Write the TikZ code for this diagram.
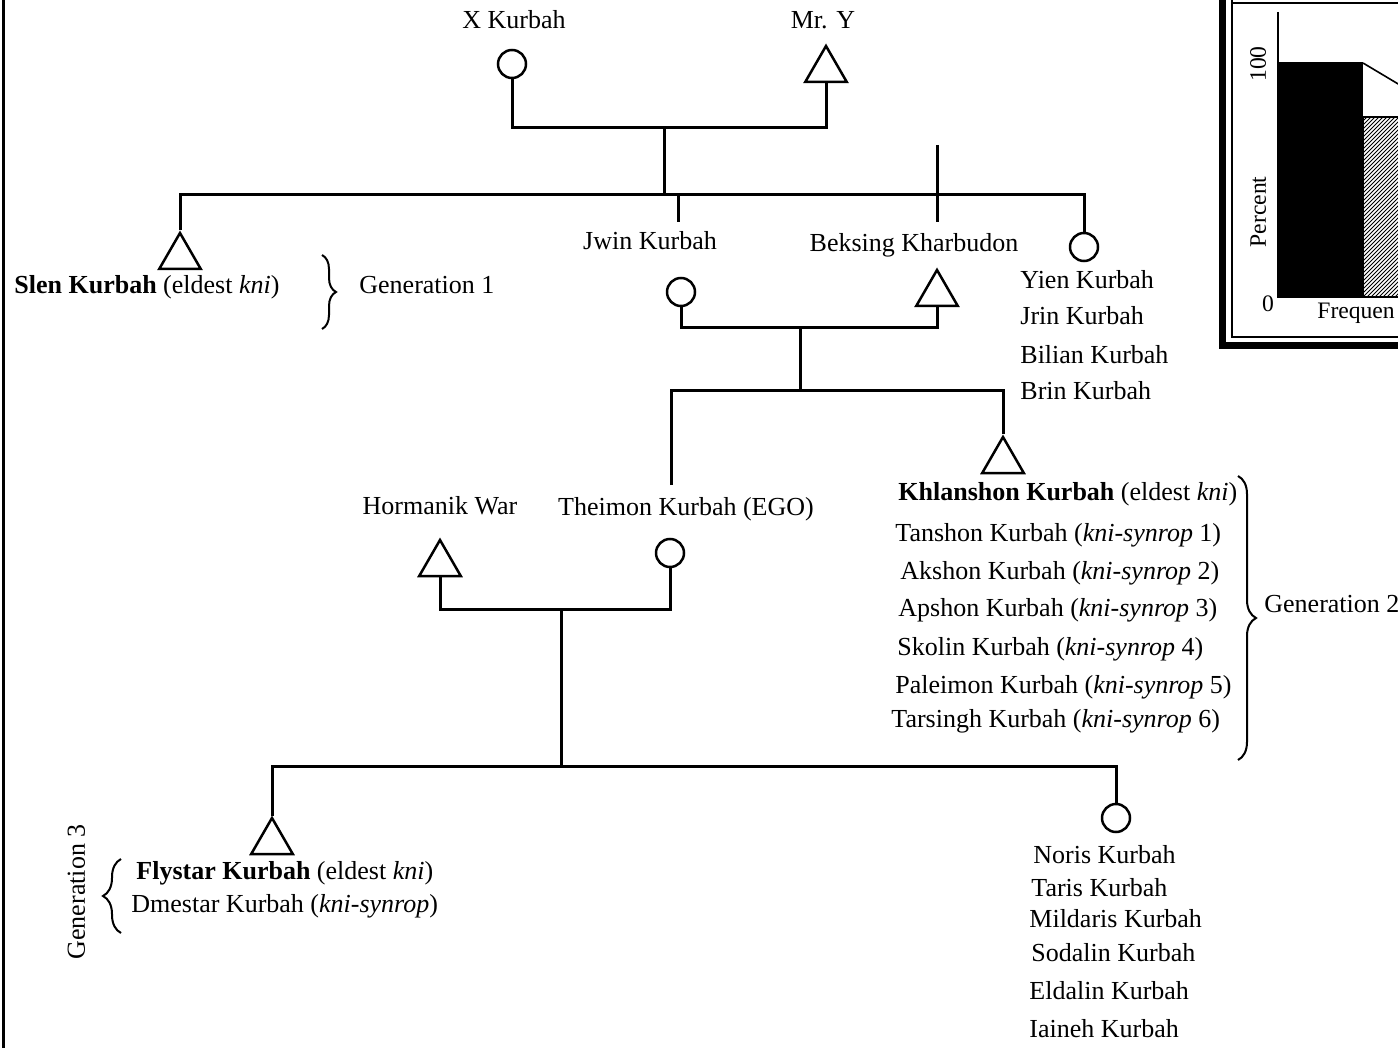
\documentclass[tikz,border=0pt]{standalone}
\usepackage{fontspec}
\setmainfont{Liberation Serif}
\usetikzlibrary{shapes.geometric,decorations.pathreplacing,calc}
\begin{document}
\begin{tikzpicture}[x=0.5pt,y=-0.5pt,
  lbl/.style={inner sep=1pt, font=\fontsize{13}{15}\selectfont, text height=0.68em, text depth=0pt},
  lw/.style={lbl, anchor=west},
  clbl/.style={inner sep=0pt, font=\fontsize{11.8}{14}\selectfont, text height=0.68em, text depth=0pt},
  fem/.style={circle, draw, line width=1.25pt, minimum size=14pt, inner sep=0pt},
  mal/.style={regular polygon, regular polygon sides=3, draw, line width=1.25pt, minimum size=24pt, inner sep=0pt},
  kin/.style={line width=1.5pt},
  gbrace/.style={decorate, decoration={brace, amplitude=#1}, line width=1pt},
  thinline/.style={line width=0.8pt}
]
\useasboundingbox (0,0) rectangle (1398,1048);

% left border
\draw[line width=1.5pt] (3,0) -- (3,1048);

% ---------- chart fragment (top right) ----------
\begin{scope}
\clip (0,0) rectangle (1398,1048);
\draw[line width=3.5pt] (1222,-20) -- (1222,346) -- (1420,346);
\draw[thinline] (1232,-20) -- (1232,337) -- (1420,337);
\draw[thinline] (1232,3) -- (1420,3);
\fill (1278,62) rectangle (1363,297);
\begin{scope}
\clip (1363,117) rectangle (1398,297);
\foreach \i in {0,...,60} \draw[line width=0.5pt] ({1163+\i*4},297) -- ++(200,-200);
\end{scope}
\draw[thinline] (1363,297) -- (1363,117) -- (1420,117);
\draw[thinline] (1363,63) -- (1420,97);
\draw[thinline] (1278,12) -- (1278,297) -- (1420,297);
\end{scope}
\node[clbl, rotate=90] (c100) at (1259,64) {100};
\node[clbl, rotate=90] (cpct) at (1259,212) {Percent};
\node[clbl] (c0) at (1268,305) {0};
\node[clbl, anchor=west] (cfreq) at (1317,312) {Frequen};

% ---------- generation 0 ----------
\node[lbl] (xkl) at (514,22) {X Kurbah};
\node[lbl] (myl) at (823,22) {Mr. Y};
\node[fem] (xk) at (512,64) {};
\node[mal] (my) at (826,70) {};
\coordinate (m1) at (664,128);
\coordinate (s1) at (664,195);
\draw[kin] (xk.south) |- (m1) -| (my.south);
\draw[kin] (m1) -- (s1);

% ---------- generation 1 ----------
\node[mal] (slen) at (180,257) {};
\node[fem] (yien) at (1084,247) {};
\draw[kin] (slen.north) |- (s1) -| (yien.north);
\node[lw] (slenl) at (12,287) {\textbf{Slen Kurbah} (eldest \textit{kni})};
\draw[gbrace=7pt] (322,255) -- (322,329);
\node[lw] (gen1) at (357,287) {Generation 1};

\coordinate (jwt) at (678,195);
\coordinate (jwb) at (678,222);
\draw[kin] (jwt) -- (jwb);
\node[lbl] (jwl) at (650,243) {Jwin Kurbah};
\coordinate (bkt) at (937,145);
\coordinate (bkb) at (937,222);
\draw[kin] (bkt) -- (bkb);
\node[lbl] (bkl) at (914,245) {Beksing Kharbudon};

\node[lw] (yl1) at (1018,282) {Yien Kurbah};
\node[lw] (yl2) at (1018,318) {Jrin Kurbah};
\node[lw] (yl3) at (1018,357) {Bilian Kurbah};
\node[lw] (yl4) at (1018,393) {Brin Kurbah};

\node[fem] (jwin) at (681,292) {};
\node[mal] (bek) at (937,294) {};
\coordinate (m2) at (800,328);
\coordinate (s2) at (800,390);
\draw[kin] (jwin.south) |- (m2) -| (bek.south);
\draw[kin] (m2) -- (s2);

% ---------- generation 2 ----------
\coordinate (thb) at (671,485);
\node[mal] (khl) at (1003,461) {};
\draw[kin] (thb) |- (s2) -| (khl.north);

\node[lbl] (horl) at (440,508) {Hormanik War};
\node[lbl] (thl) at (686,509) {Theimon Kurbah (EGO)};
\node[mal] (hor) at (440,564) {};
\node[fem] (the) at (670,553) {};
\coordinate (m3) at (561,609);
\coordinate (s3) at (561,766);
\draw[kin] (hor.south) |- (m3) -| (the.south);
\draw[kin] (m3) -- (s3);

\node[lw] (g2a) at (896,494) {\textbf{Khlanshon Kurbah} (eldest \textit{kni})};
\node[lw] (g2b) at (893,535) {Tanshon Kurbah (\textit{kni-synrop} 1)};
\node[lw] (g2c) at (898,573) {Akshon Kurbah (\textit{kni-synrop} 2)};
\node[lw] (g2d) at (896,610) {Apshon Kurbah (\textit{kni-synrop} 3)};
\node[lw] (g2e) at (895,649) {Skolin Kurbah (\textit{kni-synrop} 4)};
\node[lw] (g2f) at (893,687) {Paleimon Kurbah (\textit{kni-synrop} 5)};
\node[lw] (g2g) at (889,721) {Tarsingh Kurbah (\textit{kni-synrop} 6)};
\draw[gbrace=9pt] (1238,476) -- (1238,760);
\node[lw] (gen2) at (1262,606) {Generation 2};

% ---------- generation 3 ----------
\node[mal] (fly) at (272,842) {};
\node[fem] (nor) at (1116,818) {};
\draw[kin] (fly.north) |- (s3) -| (nor.north);

\node[lw] (fl1) at (134,873) {\textbf{Flystar Kurbah} (eldest \textit{kni})};
\node[lw] (fl2) at (129,906) {Dmestar Kurbah (\textit{kni-synrop})};
\draw[gbrace=9pt] (121,933) -- (121,859);
\node[lbl, rotate=90] (gen3) at (78,892) {Generation 3};

\node[lw] (nl1) at (1031,857) {Noris Kurbah};
\node[lw] (nl2) at (1029,890) {Taris Kurbah};
\node[lw] (nl3) at (1027,921) {Mildaris Kurbah};
\node[lw] (nl4) at (1029,955) {Sodalin Kurbah};
\node[lw] (nl5) at (1027,993) {Eldalin Kurbah};
\node[lw] (nl6) at (1027,1031) {Iaineh Kurbah};
\end{tikzpicture}
\end{document}
